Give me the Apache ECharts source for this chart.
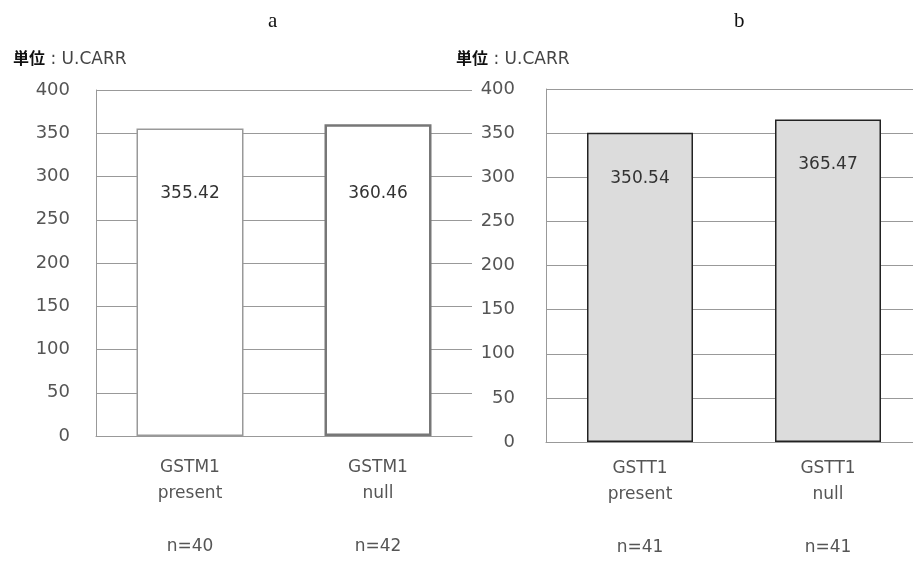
<!DOCTYPE html>
<html><head><meta charset="utf-8">
<script src="https://cdn.jsdelivr.net/npm/echarts@6/dist/echarts.min.js"></script>
<style>html,body{margin:0;padding:0;background:#fff}#c{width:913px;height:564px}</style>
</head><body><div id="c"></div>
<script>
const catsA = ['GSTM1\npresent', 'GSTM1\nnull'];
const nA = ['n=40', 'n=42'];
const valsA = [355.42, 360.46];
const catsB = ['GSTT1\npresent', 'GSTT1\nnull'];
const nB = ['n=41', 'n=41'];
const valsB = [350.54, 365.47];
const yTicks = [0, 50, 100, 150, 200, 250, 300, 350, 400];
const titles = ['a', 'b'];
const unitLabel = '単位';
const unitValue = 'U.CARR';

const chart = echarts.init(document.getElementById('c'));
const axisFont = {fontFamily: 'DejaVu Sans', fontSize: 17, color: '#555'};
function xAxis(gi, cats, ns, margin) {
  return {type: 'category', gridIndex: gi, data: cats.map((c, i) => c + '\n\n' + ns[i]),
    axisTick: {show: false}, axisLine: {lineStyle: {color: '#999'}},
    axisLabel: Object.assign({margin: margin, lineHeight: 26.5, interval: 0}, axisFont)};
}
function yAxis(gi, margin) {
  return {type: 'value', gridIndex: gi, min: yTicks[0], max: yTicks[yTicks.length - 1], interval: 50,
    axisLine: {show: true, lineStyle: {color: '#999'}}, axisTick: {show: false},
    splitLine: {lineStyle: {color: '#999', width: 1}},
    axisLabel: Object.assign({}, axisFont, {margin: margin, fontSize: 18})};
}
const unitStyle = {fontFamily: 'DejaVu Sans', fontSize: 17, fontWeight: 'normal', color: '#444', lineHeight: 22,
  rich: {
    k: {fontFamily: 'Noto Sans CJK JP', fontSize: 16, fontWeight: 'bold', color: '#111', lineHeight: 22, verticalAlign: 'middle', padding: [0, 0, 5, 0]},
    t: {fontFamily: 'DejaVu Sans', fontSize: 17, color: '#444', lineHeight: 22, verticalAlign: 'middle'}
  }};
const unitText = '{k|' + unitLabel + '}{t| : ' + unitValue + '}';
chart.setOption({
  animation: false,
  title: [
    {text: titles[0], left: 263, top: 6, textStyle: {fontFamily: 'Liberation Serif', fontSize: 21, fontWeight: 'normal', color: '#111'}},
    {text: titles[1], left: 729, top: 6, textStyle: {fontFamily: 'Liberation Serif', fontSize: 21, fontWeight: 'normal', color: '#111'}},
    {text: unitText, left: 8, top: 44, textStyle: unitStyle},
    {text: unitText, left: 451, top: 44, textStyle: unitStyle}
  ],
  grid: [
    {left: 96, top: 90, width: 376, height: 346, outerBoundsMode: 'none'},
    {left: 546, top: 89, width: 376, height: 353, outerBoundsMode: 'none'}
  ],
  xAxis: [xAxis(0, catsA, nA, 18), xAxis(1, catsB, nB, 13)],
  yAxis: [yAxis(0, 26), yAxis(1, 31)],
  series: [
    {type: 'bar', xAxisIndex: 0, yAxisIndex: 0, barWidth: 107,
      data: valsA.map((v, i) => ({value: v,
        itemStyle: i === 0 ? {color: '#fff', borderColor: '#999', borderWidth: 1.5} : {color: '#fff', borderColor: '#777', borderWidth: 2.5},
        label: {distance: i === 0 ? 57 : 61}})),
      label: {show: true, position: 'insideTop', formatter: p => p.value.toFixed(2), fontFamily: 'DejaVu Sans', fontSize: 17, color: '#333'}},
    {type: 'bar', xAxisIndex: 1, yAxisIndex: 1, barWidth: 106,
      data: valsB.map(v => ({value: v})),
      itemStyle: {color: '#dcdcdc', borderColor: '#222', borderWidth: 1.5},
      label: {show: true, position: 'insideTop', distance: 37, formatter: p => p.value.toFixed(2), fontFamily: 'DejaVu Sans', fontSize: 17, color: '#333'}}
  ]
});
</script></body></html>
